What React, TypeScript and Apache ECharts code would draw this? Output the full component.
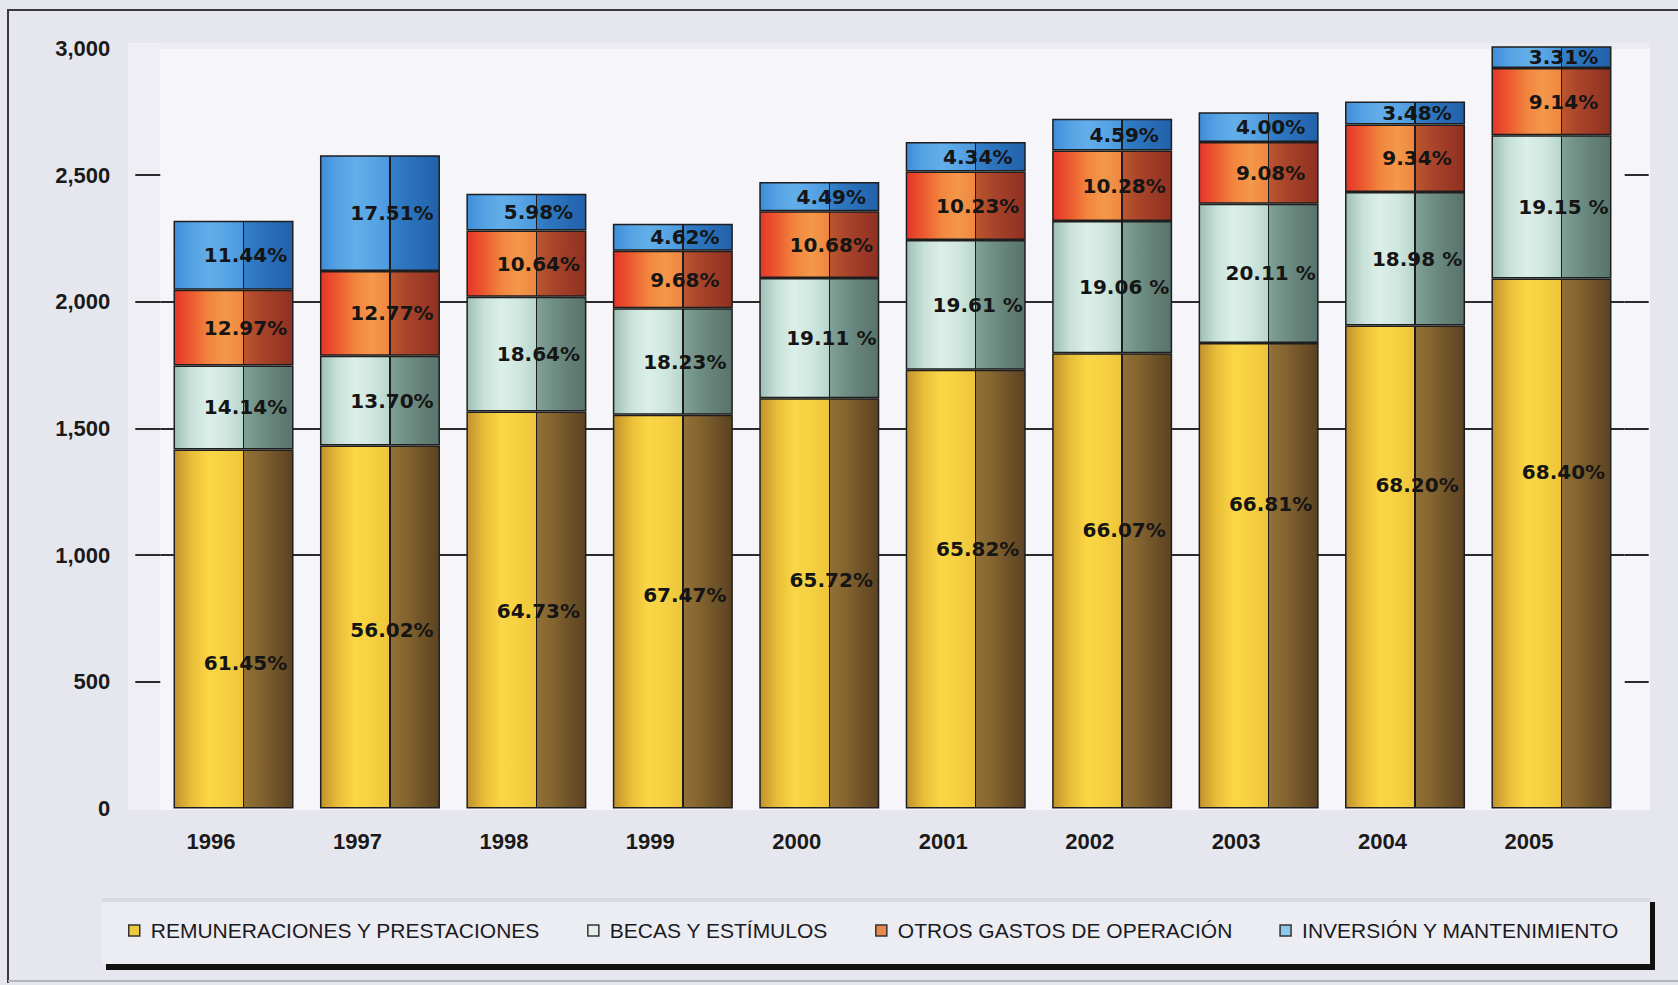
import React, { useEffect, useRef } from "react";
import * as echarts from "echarts";

const years = ["1996", "1997", "1998", "1999", "2000", "2001", "2002", "2003", "2004", "2005"];

const seriesNames = [
  "REMUNERACIONES Y PRESTACIONES",
  "BECAS Y ESTÍMULOS",
  "OTROS GASTOS DE OPERACIÓN",
  "INVERSIÓN Y MANTENIMIENTO",
];

const remuneraciones = [1417, 1433, 1567, 1554, 1619, 1731, 1797, 1837, 1906, 2092];
const becas = [331, 354, 453, 420, 475, 512, 521, 550, 527, 565];
const otrosGastos = [299, 334, 261, 227, 263, 271, 279, 243, 266, 265];
const inversion = [272, 457, 145, 107, 115, 116, 125, 118, 91, 86];

const pctRemuneraciones = ["61.45%", "56.02%", "64.73%", "67.47%", "65.72%", "65.82%", "66.07%", "66.81%", "68.20%", "68.40%"];
const pctBecas = ["14.14%", "13.70%", "18.64%", "18.23%", "19.11 %", "19.61 %", "19.06 %", "20.11 %", "18.98 %", "19.15 %"];
const pctOtros = ["12.97%", "12.77%", "10.64%", "9.68%", "10.68%", "10.23%", "10.28%", "9.08%", "9.34%", "9.14%"];
const pctInversion = ["11.44%", "17.51%", "5.98%", "4.62%", "4.49%", "4.34%", "4.59%", "4.00%", "3.48%", "3.31%"];

const yTickValues = [0, 500, 1000, 1500, 2000, 2500, 3000];
const innerTickValues = [500, 1000, 1500, 2000, 2500];

// label vertical shift (style) for the bottom segment labels
const remLabelShift = [34, 3, 1, -17, -23, -40, -51, -72, -82, -71];

const SPLIT = 0.578;

function faceGradient(front: string[], side: string[]) {
  const stops: { offset: number; color: string }[] = [];
  front.forEach((c, i) => stops.push({ offset: (SPLIT * i) / (front.length - 1), color: c }));
  stops.push({ offset: SPLIT, color: "#1c1c1c" });
  stops.push({ offset: SPLIT + 0.012, color: "#1c1c1c" });
  side.forEach((c, i) =>
    stops.push({ offset: SPLIT + 0.012 + ((1 - SPLIT - 0.012) * i) / (side.length - 1), color: c })
  );
  return new echarts.graphic.LinearGradient(0, 0, 1, 0, stops);
}

export default function App() {
  const ref = useRef<HTMLDivElement>(null);

  useEffect(() => {
    document.body.style.margin = "0";
    if (!ref.current) return;
    const chart = echarts.init(ref.current, undefined, { renderer: "svg" });

    const labelBase = {
      show: true,
      position: "inside" as const,
      fontFamily: "DejaVu Sans",
      fontWeight: "bold" as const,
      fontSize: 20,
      color: "#151515",
      offset: [12, 0],
    };

    const mkSeries = (
      name: string,
      values: number[],
      pcts: string[],
      grad: any,
      shifts?: number[]
    ) => ({
      name,
      type: "bar",
      stack: "total",
      barWidth: 120,
      clip: false,
      itemStyle: { color: grad, borderColor: "#1e1e1e", borderWidth: 1.5 },
      label: { ...labelBase, formatter: (p: any) => pcts[p.dataIndex] },
      data: values.map((v, i) =>
        shifts ? { value: v, label: { offset: [12, shifts[i]] } } : v
      ),
    });

    const gYellow = faceGradient(
      ["#c0922e", "#e9bd38", "#fad746", "#f6d040", "#eec53a"],
      ["#927037", "#84642f", "#6e5228", "#5c4222"]
    );
    const gGreen = faceGradient(
      ["#9ebfb4", "#c8e1d9", "#dcefe9", "#d0e7e0", "#b9d6cc"],
      ["#81a096", "#6f8f85", "#637f76", "#57736a"]
    );
    const gOrange = faceGradient(
      ["#e6352a", "#ec5a30", "#f2853e", "#f4984a", "#ee8640"],
      ["#bb5530", "#a9452a", "#9c3a26", "#8e3022"]
    );
    const gBlue = faceGradient(
      ["#3f8dd9", "#55a2e4", "#62aee9", "#58a6e6", "#4b98de"],
      ["#3480c8", "#2c74be", "#276ab4", "#2261aa"]
    );

    const tickLine = { color: "#2b2b2b", width: 2 };

    const option: any = {
      animation: false,
      backgroundColor: "#e6e7ee",
      graphic: {
        elements: [
          { type: "rect", z: -10, shape: { x: 128, y: 43, width: 32, height: 767 }, style: { fill: "#eeeef4" } },
          { type: "rect", z: -10, shape: { x: 160, y: 43, width: 1490, height: 767 }, style: { fill: "#f6f6fa" } },
          { type: "rect", z: -10, shape: { x: 160, y: 43, width: 1490, height: 6 }, style: { fill: "#ebebf1" } },
          {
            type: "polyline",
            z: -5,
            shape: { points: [[8, 983], [8, 10], [1678, 10]] },
            style: { stroke: "#3a3a3a", lineWidth: 2, fill: "none" },
          },
          { type: "line", z: -5, shape: { x1: 8, y1: 981, x2: 1678, y2: 981 }, style: { stroke: "#b4b4bc", lineWidth: 2 } },
          { type: "rect", z: -4, shape: { x: 106, y: 902, width: 1549, height: 68 }, style: { fill: "#111111" } },
          { type: "rect", z: -3, shape: { x: 102, y: 898, width: 1548, height: 66 }, style: { fill: "#ececf3" } },
          { type: "rect", z: -3, shape: { x: 102, y: 898, width: 1548, height: 4 }, style: { fill: "#d9d9e1" } },
        ],
      },
      legend: {
        left: 123,
        top: 915,
        itemWidth: 11,
        itemHeight: 11,
        itemGap: 47,
        icon: "rect",
        textStyle: {
          fontFamily: "Liberation Sans",
          fontSize: 21,
          color: "#1a1a22",
          padding: [0, 0, 0, 6],
        },
        data: [
          { name: seriesNames[0], itemStyle: { color: "#ecc83a", borderColor: "#333", borderWidth: 1.5 } },
          { name: seriesNames[1], itemStyle: { color: "#e6eeea", borderColor: "#333", borderWidth: 1.5 } },
          { name: seriesNames[2], itemStyle: { color: "#e98a4a", borderColor: "#333", borderWidth: 1.5 } },
          { name: seriesNames[3], itemStyle: { color: "#8cc8ec", borderColor: "#333", borderWidth: 1.5 } },
        ],
      },
      grid: { left: 160.3, right: 53.3, top: 48.3, bottom: 176.5, containLabel: false },
      xAxis: {
        type: "category",
        data: years,
        axisLine: { show: false },
        axisTick: { show: false },
        axisLabel: {
          margin: 22,
          fontFamily: "Liberation Sans",
          fontWeight: "bold",
          fontSize: 22,
          color: "#1a1a1a",
          padding: [0, 45, 0, 0],
        },
      },
      yAxis: [
        {
          type: "value",
          min: 0,
          max: 3000,
          interval: 500,
          axisLine: { show: false },
          axisTick: { show: true, length: 25, lineStyle: tickLine, customValues: innerTickValues },
          axisLabel: {
            margin: 50,
            fontFamily: "Liberation Sans",
            fontWeight: "bold",
            fontSize: 22,
            color: "#1a1a1a",
            customValues: yTickValues,
            formatter: (v: number) => v.toLocaleString("en-US"),
          },
          splitLine: { show: true, showMinLine: false, showMaxLine: false, lineStyle: tickLine },
        },
        {
          type: "value",
          position: "right",
          min: 0,
          max: 3000,
          interval: 500,
          axisLine: { show: false },
          axisTick: { show: true, length: 24, lineStyle: tickLine, customValues: innerTickValues },
          axisLabel: { show: false },
          splitLine: { show: false },
        },
      ],
      series: [
        mkSeries(seriesNames[0], remuneraciones, pctRemuneraciones, gYellow, remLabelShift),
        mkSeries(seriesNames[1], becas, pctBecas, gGreen),
        mkSeries(seriesNames[2], otrosGastos, pctOtros, gOrange),
        mkSeries(seriesNames[3], inversion, pctInversion, gBlue),
      ],
    };

    chart.setOption(option);
    return () => chart.dispose();
  }, []);

  return <div ref={ref} style={{ width: 1678, height: 985 }} />;
}
